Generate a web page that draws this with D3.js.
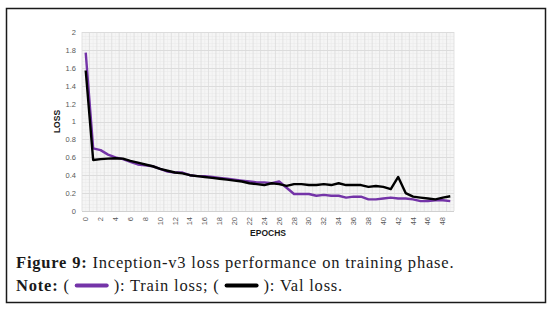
<!DOCTYPE html>
<html>
<head>
<meta charset="utf-8">
<script src="https://cdn.jsdelivr.net/npm/d3@7"></script>
<style>
  body { margin: 0; background: #fff; }
  svg { display: block; }
</style>
</head>
<body>
<div id="chart"></div>
<script>
// ── Data ──
const epochs = d3.range(0, 50);
const trainLoss = [
  1.77, 0.70, 0.68, 0.63, 0.60, 0.58, 0.55, 0.52, 0.51, 0.50,
  0.47, 0.44, 0.43, 0.43, 0.40, 0.39, 0.39, 0.38, 0.37, 0.36,
  0.35, 0.34, 0.33, 0.32, 0.32, 0.31, 0.33, 0.26, 0.19, 0.19,
  0.19, 0.17, 0.18, 0.17, 0.17, 0.15, 0.16, 0.16, 0.13, 0.13,
  0.14, 0.15, 0.14, 0.14, 0.13, 0.11, 0.11, 0.12, 0.12, 0.11
];
const valLoss = [
  1.57, 0.57, 0.58, 0.585, 0.59, 0.585, 0.56, 0.54, 0.52, 0.50,
  0.47, 0.45, 0.43, 0.42, 0.40, 0.39, 0.38, 0.37, 0.36, 0.35,
  0.34, 0.33, 0.31, 0.30, 0.29, 0.31, 0.30, 0.28, 0.30, 0.30,
  0.29, 0.29, 0.30, 0.29, 0.31, 0.29, 0.29, 0.29, 0.27, 0.28,
  0.27, 0.245, 0.38, 0.20, 0.16, 0.15, 0.14, 0.13, 0.15, 0.165
];
const yTicks = [0, 0.2, 0.4, 0.6, 0.8, 1, 1.2, 1.4, 1.6, 1.8, 2];
const xTicks = epochs.filter((e) => e % 2 === 0);

const C = { train: "#7434a8", val: "#000000", grid: "#dcdcdc", minor: "#ebebeb", bg: "#f5f5f5", tick: "#595959" };

const W = 551, H = 310;
const P = { l: 82, r: 454, t: 32, b: 211 };

const svg = d3.select("#chart").append("svg").attr("width", W).attr("height", H);

// ── Outer frame ──
svg.append("rect")
  .attr("x", 6.5).attr("y", 8.5).attr("width", 539).attr("height", 294)
  .attr("fill", "#fff").attr("stroke", "#1a1a1a").attr("stroke-width", 1.5);

const x = d3.scaleBand().domain(epochs).range([P.l, P.r]);
const xc = (e) => x(e) + x.bandwidth() / 2;
const y = d3.scaleLinear().domain([0, 2]).range([P.b, P.t]);

// ── Plot background + grid ──
svg.append("rect")
  .attr("x", P.l).attr("y", P.t).attr("width", P.r - P.l).attr("height", P.b - P.t)
  .attr("fill", C.bg);

const grid = svg.append("g");
// minor horizontal
grid.selectAll(".hm").data(d3.range(0, 2.0001, 0.04)).join("line")
  .attr("x1", P.l).attr("x2", P.r)
  .attr("y1", (d) => Math.round(y(d)) + 0.5).attr("y2", (d) => Math.round(y(d)) + 0.5)
  .attr("stroke", C.minor).attr("stroke-width", 0.6);
// minor vertical
grid.selectAll(".vm").data(epochs).join("line")
  .attr("x1", (d) => xc(d)).attr("x2", (d) => xc(d))
  .attr("y1", P.t).attr("y2", P.b)
  .attr("stroke", C.minor).attr("stroke-width", 0.6);
// major horizontal
grid.selectAll(".hM").data(yTicks).join("line")
  .attr("x1", P.l).attr("x2", P.r)
  .attr("y1", (d) => Math.round(y(d)) + 0.5).attr("y2", (d) => Math.round(y(d)) + 0.5)
  .attr("stroke", C.grid).attr("stroke-width", 1);
// major vertical (band edges)
grid.selectAll(".vM").data(epochs.concat([50])).join("line")
  .attr("x1", (d) => (d < 50 ? x(d) : P.r)).attr("x2", (d) => (d < 50 ? x(d) : P.r))
  .attr("y1", P.t).attr("y2", P.b)
  .attr("stroke", C.grid).attr("stroke-width", 0.8);

// ── Axes ──
const yAxis = svg.append("g")
  .attr("transform", `translate(${P.l - 4},0)`)
  .call(d3.axisLeft(y).tickValues(yTicks).tickSize(0).tickPadding(2).tickFormat((d) => d3.format("~g")(d)));
yAxis.select(".domain").remove();
yAxis.selectAll("text")
  .attr("fill", C.tick).attr("font-family", "Liberation Sans, Arial, sans-serif").attr("font-size", "7.5px");

const xAxis = svg.append("g").attr("transform", `translate(0,${P.b})`);
xAxis.append("line").attr("x1", P.l).attr("x2", P.r).attr("y1", 0.5).attr("y2", 0.5)
  .attr("stroke", "#d0d0d0");
xAxis.selectAll("text").data(xTicks).join("text")
  .attr("transform", (d) => `translate(${xc(d) + 2.5},${6}) rotate(-90)`)
  .attr("text-anchor", "end")
  .attr("fill", C.tick)
  .attr("font-family", "Liberation Sans, Arial, sans-serif")
  .attr("font-size", "7.5px")
  .text((d) => d);

// ── Axis titles ──
svg.append("text")
  .attr("transform", `translate(60,${(P.t + P.b) / 2}) rotate(-90)`)
  .attr("text-anchor", "middle")
  .attr("font-family", "Liberation Sans, Arial, sans-serif")
  .attr("font-weight", "bold").attr("font-size", "8.5px").attr("fill", "#1a1a1a")
  .text("LOSS");

svg.append("text")
  .attr("x", (P.l + P.r) / 2).attr("y", 236)
  .attr("text-anchor", "middle")
  .attr("font-family", "Liberation Sans, Arial, sans-serif")
  .attr("font-weight", "bold").attr("font-size", "8.5px").attr("fill", "#1a1a1a")
  .text("EPOCHS");

// ── Lines ──
const line = (vals) => d3.line().x((d, i) => xc(epochs[i])).y((d) => y(d))(vals);

svg.append("path").attr("d", line(trainLoss))
  .attr("fill", "none").attr("stroke", C.train).attr("stroke-width", 2.4).attr("stroke-linejoin", "round");
svg.append("path").attr("d", line(valLoss))
  .attr("fill", "none").attr("stroke", C.val).attr("stroke-width", 2.4).attr("stroke-linejoin", "round");

// ── Caption ──
const serif = "Liberation Serif, Times New Roman, serif";
const cap = svg.append("text").attr("x", 16).attr("y", 268)
  .attr("font-family", serif).attr("font-size", "16.5px").attr("letter-spacing", "0.8px").attr("fill", "#1a1a1a");
cap.append("tspan").attr("font-weight", "bold").text("Figure 9: ");
cap.append("tspan").text("Inception-v3 loss performance on training phase.");

const note = svg.append("text").attr("x", 16).attr("y", 291)
  .attr("font-family", serif).attr("font-size", "16.5px").attr("letter-spacing", "0.8px").attr("fill", "#1a1a1a");
note.append("tspan").attr("font-weight", "bold").text("Note: ");
note.append("tspan").text("(");
note.append("tspan").attr("dx", 44).text("): Train loss; (");
note.append("tspan").attr("dx", 44).text("): Val loss.");

// legend swatches placed after text is laid out
const tsp = note.selectAll("tspan").nodes();
const sw1 = tsp[1].getBBox();
const t2 = tsp[2].getBBox();
svg.append("line")
  .attr("x1", sw1.x + sw1.width + 7).attr("x2", t2.x - 7)
  .attr("y1", 285.5).attr("y2", 285.5)
  .attr("stroke", C.train).attr("stroke-width", 4).attr("stroke-linecap", "round");
const t3 = tsp[3].getBBox();
svg.append("line")
  .attr("x1", t2.x + t2.width + 7).attr("x2", t3.x - 7)
  .attr("y1", 285.5).attr("y2", 285.5)
  .attr("stroke", C.val).attr("stroke-width", 4).attr("stroke-linecap", "round");
</script>
</body>
</html>
